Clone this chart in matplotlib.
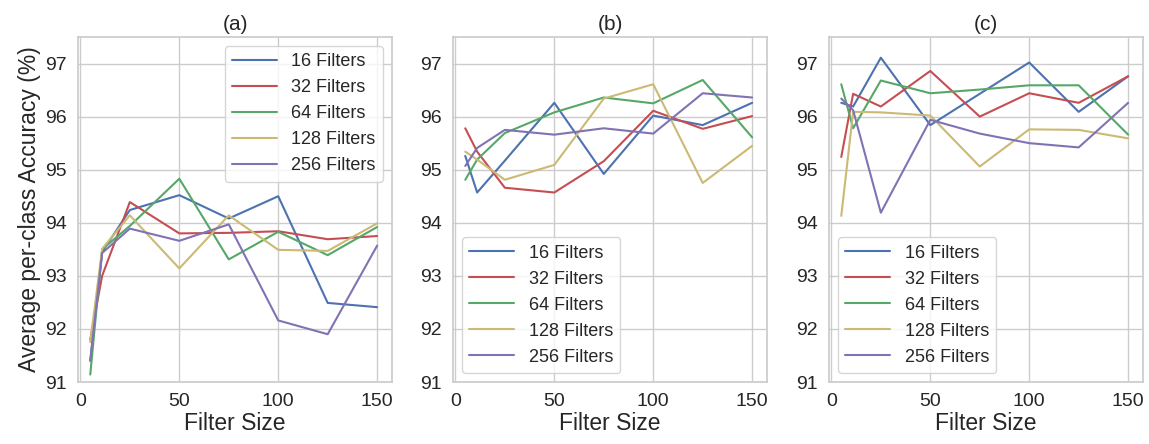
import matplotlib
matplotlib.use("Agg")
import matplotlib.pyplot as plt
import seaborn as sns

sns.set_theme(style="whitegrid")
sns.set_color_codes("deep")
plt.rcParams['font.family'] = ['Liberation Sans', 'DejaVu Sans']

filter_sizes = [5, 11, 25, 50, 75, 100, 125, 150]
series_labels = ["16 Filters", "32 Filters", "64 Filters", "128 Filters", "256 Filters"]
panel_titles = ["(a)", "(b)", "(c)"]

# Panel (a)
a_16 = [91.40, 93.45, 94.24, 94.52, 94.08, 94.50, 92.49, 92.41]
a_32 = [91.80, 93.00, 94.39, 93.80, 93.81, 93.84, 93.69, 93.75]
a_64 = [91.14, 93.50, 93.94, 94.83, 93.31, 93.83, 93.39, 93.92]
a_128 = [91.75, 93.51, 94.14, 93.14, 94.14, 93.49, 93.47, 93.99]
a_256 = [91.40, 93.43, 93.89, 93.66, 93.97, 92.16, 91.90, 93.57]

# Panel (b)
b_16 = [95.26, 94.57, 95.17, 96.26, 94.92, 96.02, 95.84, 96.26]
b_32 = [95.78, 95.34, 94.66, 94.57, 95.16, 96.11, 95.77, 96.01]
b_64 = [94.81, 95.19, 95.69, 96.08, 96.36, 96.25, 96.69, 95.61]
b_128 = [95.34, 95.19, 94.81, 95.09, 96.34, 96.61, 94.75, 95.45]
b_256 = [95.07, 95.41, 95.75, 95.66, 95.78, 95.68, 96.44, 96.36]

# Panel (c)
c_16 = [96.26, 96.19, 97.11, 95.84, 96.43, 97.02, 96.09, 96.76]
c_32 = [95.24, 96.43, 96.19, 96.86, 96.00, 96.44, 96.26, 96.76]
c_64 = [96.61, 95.78, 96.68, 96.44, 96.51, 96.59, 96.59, 95.66]
c_128 = [94.13, 96.09, 96.08, 96.02, 95.06, 95.76, 95.75, 95.59]
c_256 = [96.34, 96.12, 94.19, 95.94, 95.68, 95.50, 95.42, 96.26]

panels = [
    [a_16, a_32, a_64, a_128, a_256],
    [b_16, b_32, b_64, b_128, b_256],
    [c_16, c_32, c_64, c_128, c_256],
]
legend_locs = ["upper right", "lower left", "lower left"]
colors = ["b", "r", "g", "y", "m"]

W, H = 1149, 444
fig = plt.figure(figsize=(W / 100, H / 100), dpi=100)
lefts = [78, 453, 829]
top, bottom = 37, 382
width = 314

for i, (left, data) in enumerate(zip(lefts, panels)):
    ax = fig.add_axes([left / W, (H - bottom) / H, width / W, (bottom - top) / H])
    for vals, lab, col in zip(data, series_labels, colors):
        ax.plot(filter_sizes, vals, color=col, lw=1.5, label=lab)
    ax.set_xlim(-1.2, 157.5)
    ax.set_ylim(91, 97.5)
    ax.set_xticks([0, 50, 100, 150])
    ax.set_yticks([91, 92, 93, 94, 95, 96, 97])
    ax.tick_params(labelsize=14, colors="#262626", pad=2)
    ax.set_title(panel_titles[i], fontsize=15, color="#262626", pad=5)
    ax.set_xlabel("Filter Size", fontsize=16.5, color="#262626", labelpad=1)
    if i == 0:
        ax.set_ylabel("Average per-class Accuracy (%)", fontsize=16.5, color="#262626", labelpad=3)
    leg = ax.legend(loc=legend_locs[i], fontsize=13, frameon=True, handlelength=2.5)
    for sp in ax.spines.values():
        sp.set_color("#cccccc")

fig.savefig("out.png", dpi=100)
